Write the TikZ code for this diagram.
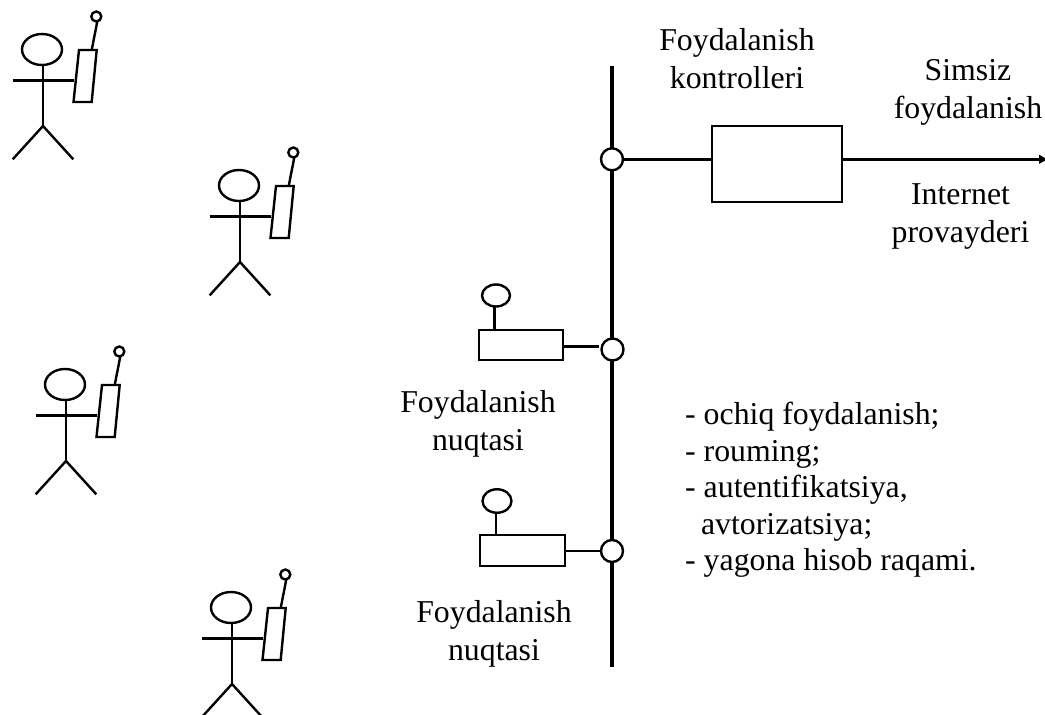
\documentclass[tikz,border=0pt]{standalone}
\usepackage{fontspec}
\setmainfont{Liberation Serif}
\usetikzlibrary{shapes.geometric,arrows.meta}
\tikzset{
 x=1pt,y=-1pt,
 wire/.style={line width=2.4pt,black},
 bus/.style={line width=4pt,black},
 junction/.style={circle,draw,line width=2.4pt,fill=white,minimum size=22pt,inner sep=0pt},
 box/.style={rectangle,draw,line width=2.4pt,fill=white,inner sep=0pt},
 aerial/.style={ellipse,draw,line width=2.4pt,fill=white,inner sep=0pt,minimum width=28pt,minimum height=22pt},
 lbl/.style={align=center,inner sep=0pt,font=\fontsize{31.8}{38}\selectfont},
 person/.pic={
  \draw[wire] (42,49.5) ellipse [x radius=20,y radius=15.5];
  \draw[wire] (43,65) -- (43,126);
  \draw[wire] (12.7,80.3) -- (73.5,80.3);
  \draw[wire] (12.7,159.3) -- (43,126) -- (73.3,159.3);
  \draw[wire] (79,50) -- (96.7,50) -- (91.7,102) -- (73.5,102) -- cycle;
  \draw[wire] (91.7,50) -- (97.3,21.5);
  \draw[wire] (96.3,16.5) circle [radius=5];
 }
}
\begin{document}
\begin{tikzpicture}
\useasboundingbox (0,0) rectangle (1045,715);
\clip (0,0) rectangle (1045,715);
\pic at (0,0) {person};
\pic at (197,136) {person};
\pic at (23,335) {person};
\pic at (189,558) {person};
\coordinate (bustop) at (612,66);
\coordinate (busend) at (612,667);
\coordinate (out) at (1049,159.3);
\coordinate (l1) at (598.5,346.3);
\draw[bus] (bustop) -- (busend);
\node[junction] (j1) at (612,159.3) {};
\node[junction] (j2) at (612.5,349.5) {};
\node[junction] (j3) at (612,551) {};
\node[box,minimum width=130pt,minimum height=76pt] (ctrl) at (777,164) {};
\draw[wire] (j1.east) -- (ctrl.west |- j1.east);
\draw[wire,-{Latex[length=10pt,width=10pt]}] (ctrl.east |- j1.east) -- (out);
\node[box,minimum width=84pt,minimum height=30pt] (ap1) at (521,345) {};
\node[aerial] (a1) at (496,295.5) {};
\coordinate (s1) at (494.3,306.5);
\draw[wire] (s1) -- (s1 |- ap1.north);
\draw[wire] (ap1.east |- l1) -- (l1);
\node[box,minimum width=85pt,minimum height=31pt] (ap2) at (522.5,550.5) {};
\node[aerial,minimum width=29pt,minimum height=23.5pt] (a2) at (497,501) {};
\coordinate (s2) at (495.7,512.5);
\draw[wire] (s2) -- (s2 |- ap2.north);
\draw[wire] (ap2.east |- j3.west) -- (j3.west);
\node[lbl] (t1) at (737,58.6) {Foydalanish\\kontrolleri};
\node[lbl] (t2) at (968,92.3) {Simsiz\\foydalanish};
\node[lbl] (t3) at (960.5,217) {Internet\\provayderi};
\node[lbl] (t4) at (478,424.3) {Foydalanish\\nuqtasi};
\node[lbl] (t5) at (494,633.8) {Foydalanish\\nuqtasi};
\node[lbl,align=left,anchor=north west,font=\fontsize{31.8}{36.5}\selectfont] (t6) at (685,402.3) {- ochiq foydalanish;\\- rouming;\\- autentifikatsiya,\\\ \ avtorizatsiya;\\- yagona hisob raqami.};
\end{tikzpicture}
\end{document}
